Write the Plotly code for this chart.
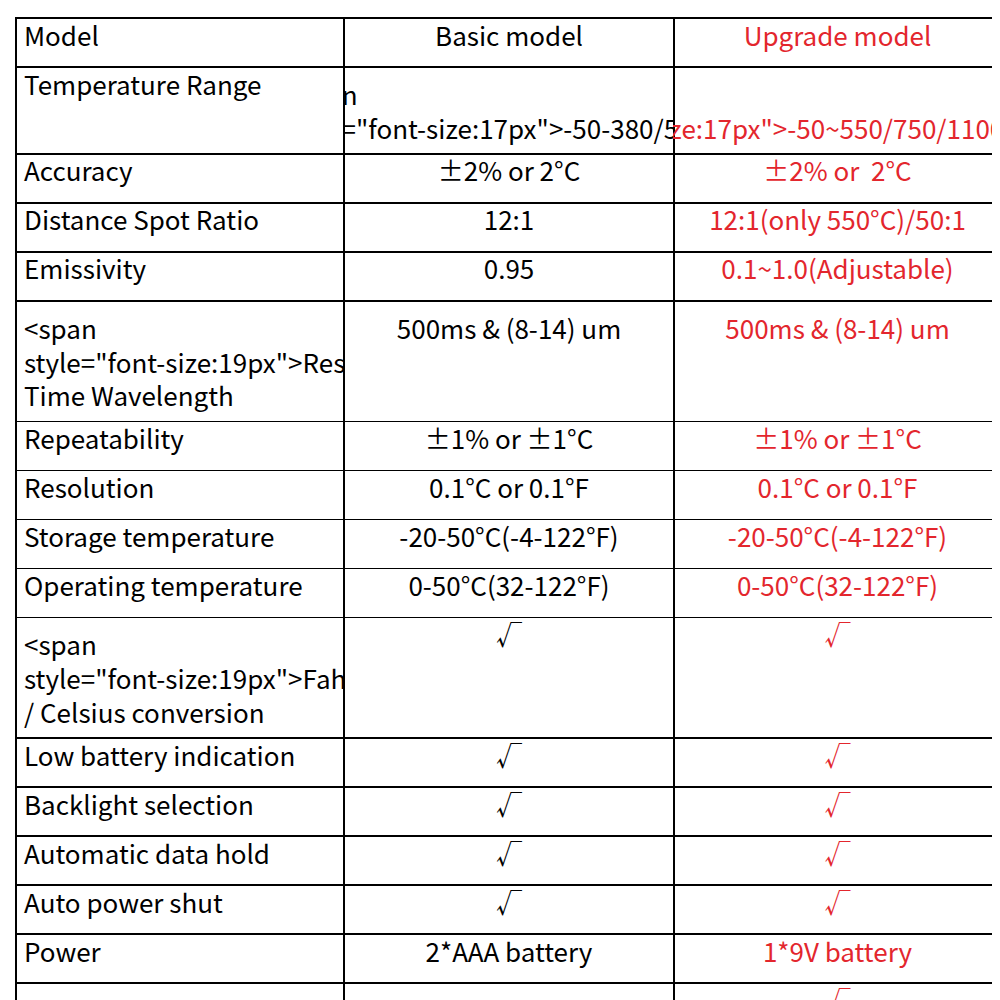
import plotly.graph_objects as go

headers = ["Model", "Basic model", "Upgrade model"]
features = ["Temperature Range", "Accuracy", "Distance Spot Ratio", "Emissivity",
            "Response Time Wavelength", "Repeatability", "Resolution", "Storage temperature",
            "Operating temperature", "Fahrenheit / Celsius conversion", "Low battery indication",
            "Backlight selection", "Automatic data hold", "Auto power shut", "Power",
            "High/low temperature alarm", "Measuring maximum/minimum<br>/average/difference",
            "Laser target display selection function", "Power percentage display function"]
basic = ["-50-380/550°C", "±2% or 2°C", "12:1", "0.95", "500ms & (8-14) um", "±1% or ±1°C",
         "0.1°C or 0.1°F", "-20-50°C(-4-122°F)", "0-50°C(32-122°F)", "√", "√", "√", "√", "√",
         "2*AAA battery", "", "", "Single laser", ""]
upgrade = ["-50~550/750/1100/1300/1600°C", "±2% or  2°C", "12:1(only 550°C)/50:1",
           "0.1~1.0(Adjustable)", "500ms & (8-14) um", "±1% or ±1°C", "0.1°C or 0.1°F",
           "-20-50°C(-4-122°F)", "0-50°C(32-122°F)", "√", "√", "√", "√", "√", "1*9V battery",
           "√", "√", "Double laser", "√"]

size_feat = [26, 26, 26, 26, 19, 26, 26, 26, 26, 19, 26, 26, 26, 26, 26, 19, 17, 16, 17]
size_basic = [17] + [26] * 18
size_up = [17] + [26] * 18
red = "#e3262d"


def sized(texts, sizes):
    return [t if s == 26 else f'<span style="font-size:{s}px">{t}</span>'
            for t, s in zip(texts, sizes)]


fig = go.Figure(go.Table(
    domain=dict(x=[0.008, 0.993], y=[0.005, 0.99]),
    columnwidth=[328, 330, 327],
    header=dict(values=headers, height=49,
                align=["left", "center", "center"],
                font=dict(family="Noto Sans CJK SC", size=26, color=["black", "black", red]),
                line=dict(color="black", width=1.5), fill=dict(color="white")),
    cells=dict(values=[sized(features, size_feat), sized(basic, size_basic),
                       sized(upgrade, size_up)], height=49,
               align=["left", "center", "center"],
               font=dict(family="Noto Sans CJK SC", size=26,
                         color=["black", "black", red]),
               line=dict(color="black", width=1.5), fill=dict(color="white")),
))
fig.update_layout(width=1000, height=1000, margin=dict(l=0, r=0, t=0, b=0),
                  paper_bgcolor="white")
fig.write_html("out.html")
